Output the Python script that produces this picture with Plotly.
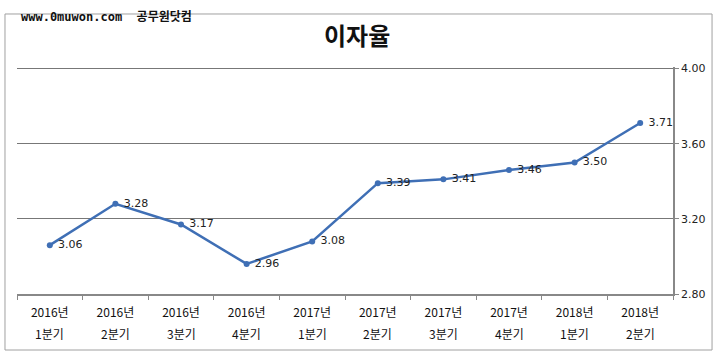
import plotly.graph_objects as go

years = ["2016년", "2016년", "2016년", "2016년", "2017년", "2017년", "2017년", "2017년", "2018년", "2018년"]
quarters = ["1분기", "2분기", "3분기", "4분기", "1분기", "2분기", "3분기", "4분기", "1분기", "2분기"]
rates = [3.06, 3.28, 3.17, 2.96, 3.08, 3.39, 3.41, 3.46, 3.50, 3.71]
cats = [f"{y} {q}" for y, q in zip(years, quarters)]

font_kr = "Noto Sans CJK KR, DejaVu Sans, sans-serif"
font_num = "DejaVu Sans, Liberation Sans, sans-serif"

fig = go.Figure()
fig.add_trace(go.Scatter(
    x=cats, y=rates, mode="lines+markers+text",
    line=dict(color="#3F6FB5", width=2.5),
    marker=dict(color="#3F6FB5", size=6),
    text=[f" {v:.2f}" for v in rates],
    textposition="middle right",
    textfont=dict(family=font_num, size=11, color="#222"),
    cliponaxis=False, showlegend=False,
))

annotations = [
    dict(x=c, y=0, xref="x", yref="paper", text=q, showarrow=False,
         yshift=-39, yanchor="middle", font=dict(family=font_kr, size=12, color="#111"))
    for c, q in zip(cats, quarters)
]
annotations.append(dict(text="<b>이자율</b>", x=0.5, y=1, xref="x domain", yref="paper",
                        xanchor="center", yanchor="middle", xshift=12, yshift=33, showarrow=False,
                        font=dict(family=font_kr, size=24, color="#111")))
annotations.append(dict(text="<b>www.0muwon.com  공무원닷컴</b>", x=0, y=1, xref="paper", yref="paper",
                        xanchor="left", yanchor="middle", xshift=2, yshift=50, showarrow=False,
                        font=dict(family="DejaVu Sans Mono, " + font_kr, size=12, color="#111")))

fig.update_layout(
    width=720, height=357,
    margin=dict(l=17, r=47, t=67, b=63),
    paper_bgcolor="white", plot_bgcolor="white",
    annotations=annotations,
    xaxis=dict(
        type="category", tickmode="array", tickvals=cats, ticktext=years,
        tickson="boundaries", ticks="outside", ticklen=4, tickcolor="#888",
        showline=True, linecolor="#888", linewidth=2, showgrid=False,
        tickfont=dict(family=font_kr, size=12, color="#111"),
        ticklabelstandoff=7,
        range=[-0.5, 9.5],
    ),
    yaxis=dict(
        side="right", range=[2.8, 4.008], tickvals=[2.8, 3.2, 3.6, 4.0], tickformat=".2f",
        showline=True, linecolor="#888", linewidth=1.5,
        ticks="outside", ticklen=4, tickcolor="#888",
        gridcolor="#777", gridwidth=1, zeroline=False,
        tickfont=dict(family=font_num, size=11, color="#222"),
    ),
    shapes=[dict(type="rect", xref="paper", yref="paper",
                 x0=-0.0183, x1=1.0595, y0=-0.2467, y1=1.2335,
                 line=dict(color="#A0A0A0", width=1), layer="below")],
)

fig.write_html("out.html", config={"displayModeBar": False},
               post_script="document.body.style.margin='0';")
